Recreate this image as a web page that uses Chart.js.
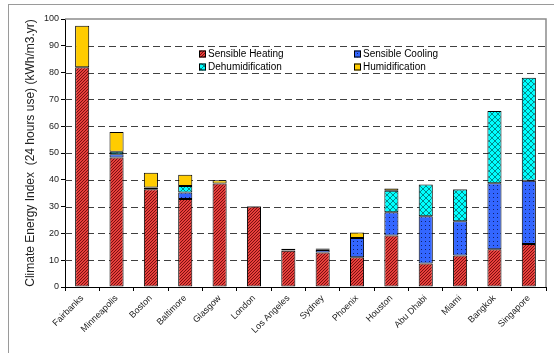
<!DOCTYPE html>
<html>
<head>
<meta charset="utf-8">
<script src="https://cdn.jsdelivr.net/npm/chart.js@4"></script>
<style>
  html, body { margin: 0; padding: 0; background: #fff; }
  #wrap { width: 554px; height: 353px; }
</style>
</head>
<body>
<div id="wrap"><canvas id="chart" width="554" height="353"></canvas></div>
<script>
// Datos del grafico (null = sin segmento)
const cities = ["Fairbanks", "Minneapolis", "Boston", "Baltimore", "Glasgow", "London", "Los Angeles",
                "Sydney", "Phoenix", "Houston", "Abu Dhabi", "Miami", "Bangkok", "Singapore"];
const heating = [82, 48.3, 36.5, 32.8, 38.6, 30, 13.5, 12.9, 11.1, 19.2, 8.8, 11.8, 14.1, 16.0];
const cooling = [null, 1.2, 0.6, 2.5, null, 0.2, 0.2, 0.9, 7.2, 8.7, 17.6, 12.7, 24.6, 23.6];
const dehumid = [null, 1.0, null, 2.4, null, null, null, 0.3, null, 8.0, 11.8, 11.9, 27.0, 38.5];
const humid = [15.5, 7.3, 5.5, 4.2, 1.2, null, 0.6, 0.3, 2.0, 0.9, null, 0.2, null, null];
const seriesLabels = ["Sensible Heating", "Sensible Cooling", "Dehumidification", "Humidification"];
const yTicks = [0, 10, 20, 30, 40, 50, 60, 70, 80, 90, 100];

const FONT = "'Liberation Sans', Arial, sans-serif";

// Patrones de relleno (tramas)
function makePattern(size, base, draw) {
    const c = document.createElement("canvas");
    c.width = size; c.height = size;
    const g = c.getContext("2d");
    g.fillStyle = base;
    g.fillRect(0, 0, size, size);
    draw(g, size);
    return g.createPattern(c, "repeat");
}
const ctx = document.getElementById("chart").getContext("2d");
const patHeating = makePattern(3, "#e8403c", (g, s) => {
    g.fillStyle = "#7a1010";
    for (let i = 0; i < s; i++) g.fillRect(s - 1 - i, i, 1, 1);
});
const patCooling = makePattern(4, "#3366ff", (g) => {
    g.fillStyle = "#10206a";
    g.fillRect(1, 1, 1, 1);
});
const patDehumid = makePattern(6, "#00ffff", (g, s) => {
    g.fillStyle = "#008a8a";
    for (let i = 0; i < s; i++) { g.fillRect(i, i, 1, 1); g.fillRect(s - 1 - i, i, 1, 1); }
});
const fills = [patHeating, patCooling, patDehumid, "#ffcc00"];

// Marco exterior, borde del area de grafico y leyenda
const framePlugin = {
    id: "frame",
    beforeDraw(chart) {
        const c = chart.ctx;
        c.save();
        c.strokeStyle = "#9a9a9a";
        c.lineWidth = 1;
        c.strokeRect(8.5, 4.5, 700, 500);
        c.restore();
    },
    beforeDatasetsDraw(chart) {
        // lineas de cuadricula discontinuas
        const c = chart.ctx;
        const a = chart.chartArea;
        const y = chart.scales.y;
        c.save();
        c.strokeStyle = "#404040";
        c.lineWidth = 1;
        c.setLineDash([7, 4]);
        yTicks.filter(v => v > 0 && v < 100).forEach(v => {
            const py = Math.round(y.getPixelForValue(v)) + 0.5;
            c.beginPath();
            c.moveTo(a.left, py);
            c.lineTo(a.right, py);
            c.stroke();
        });
        c.restore();
    },
    afterDraw(chart) {
        const c = chart.ctx;
        const a = chart.chartArea;
        c.save();
        c.strokeStyle = "#8c8c8c";
        c.lineWidth = 1.5;
        c.beginPath();
        c.moveTo(a.left, a.top);
        c.lineTo(a.right, a.top);
        c.lineTo(a.right, a.bottom);
        c.stroke();

        // Leyenda en dos columnas
        const cols = [199, 354];
        const rows = [54, 67];
        c.font = "10px " + FONT;
        c.textBaseline = "middle";
        chart.data.datasets.forEach((ds, i) => {
            const x = cols[i % 2];
            const y = rows[Math.floor(i / 2)];
            c.fillStyle = ds.backgroundColor;
            c.fillRect(x, y - 3.5, 7, 7);
            c.strokeStyle = "#000";
            c.lineWidth = 1;
            c.strokeRect(x + 0.5, y - 3, 6, 6);
            c.fillStyle = "#000";
            c.fillText(ds.label, x + 9, y + 0.5);
        });
        c.restore();
    }
};

const mkSet = (i, data) => ({
    label: seriesLabels[i],
    data: data,
    backgroundColor: fills[i],
    borderColor: "#000",
    borderWidth: 1,
    borderSkipped: false,
    inflateAmount: 0,
    barPercentage: 0.82,
    categoryPercentage: 0.5
});

new Chart(ctx, {
    type: "bar",
    data: {
        labels: cities,
        datasets: [mkSet(0, heating), mkSet(1, cooling), mkSet(2, dehumid), mkSet(3, humid)]
    },
    options: {
        responsive: false,
        animation: false,
        layout: { padding: { left: 12, top: 19, right: 8, bottom: 0 } },
        plugins: {
            legend: { display: false },
            tooltip: { enabled: false }
        },
        scales: {
            x: {
                stacked: true,
                afterFit: s => { s.height = 66; },
                grid: {
                    offset: true,
                    drawOnChartArea: false,
                    color: "#000",
                    tickLength: 4
                },
                border: { color: "#000", width: 1 },
                ticks: {
                    minRotation: 45,
                    maxRotation: 45,
                    padding: 2,
                    color: "#222",
                    font: { family: FONT, size: 9 }
                }
            },
            y: {
                stacked: true,
                min: 0,
                max: 100,
                afterFit: s => { s.width = 53; },
                afterBuildTicks: s => { s.ticks = yTicks.map(v => ({ value: v })); },
                grid: {
                    drawOnChartArea: false,
                    color: "#000",
                    tickLength: 4
                },
                border: { color: "#000", width: 1 },
                ticks: {
                    padding: 2,
                    color: "#222",
                    font: { family: FONT, size: 9 }
                },
                title: {
                    display: true,
                    text: "Climate Energy Index  (24 hours use) (kWh/m3.yr)",
                    color: "#222",
                    padding: { top: 11, bottom: 0 },
                    font: { family: FONT, size: 12 }
                }
            }
        }
    },
    plugins: [framePlugin]
});
</script>
</body>
</html>
